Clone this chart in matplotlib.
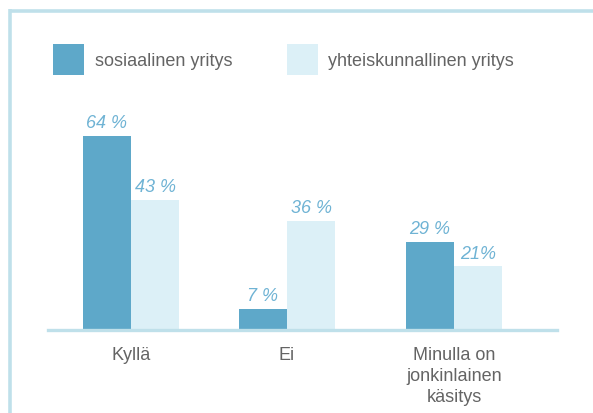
import numpy as np
import matplotlib.pyplot as plt
from matplotlib.patches import Patch
from matplotlib.lines import Line2D

# --- data ---
categories = ["Kyllä", "Ei", "Minulla on\njonkinlainen\nkäsitys"]
sosiaalinen = [64, 7, 29]
yhteiskunnallinen = [43, 36, 21]
labels_sos = ["64 %", "7 %", "29 %"]
labels_yht = ["43 %", "36 %", "21%"]
series_names = ["sosiaalinen yritys", "yhteiskunnallinen yritys"]

# --- style ---
DARK = "#5ea8c9"
LIGHT = "#dcf0f7"
LABEL = "#6fb3d4"
TEXT = "#646464"
FRAME = "#bfe0ea"
plt.rcParams['font.family'] = ['Liberation Sans', 'DejaVu Sans']

W, H = 593, 414
fig = plt.figure(figsize=(W / 100, H / 100), dpi=100)

# axes placed in pixel coords: baseline at y=331, x from 48 to 557
ax = fig.add_axes([48 / W, (H - 331) / H, (557 - 48) / W, (331 - 10) / H])

x = np.array([0, 1, 2.07])
w = 0.308
b1 = ax.bar(x - w / 2, sosiaalinen, w, color=DARK, zorder=2)
b2 = ax.bar(x + w / 2, yhteiskunnallinen, w, color=LIGHT, zorder=2)

for bars, labs in ((b1, labels_sos), (b2, labels_yht)):
    for r, t in zip(bars, labs):
        ax.annotate(t, (r.get_x() + r.get_width() / 2, r.get_height()),
                    xytext=(0, 3.5), textcoords="offset points",
                    ha="center", va="bottom", fontsize=13, style="italic",
                    color=LABEL)

ax.set_xlim(-0.532, 2.731)
ax.set_ylim(0, 321 / 3.03)
ax.set_xticks(x)
ax.set_xticklabels(categories, fontsize=13, color=TEXT, linespacing=1.32)
ax.tick_params(axis="x", length=0, pad=11.5)
ax.set_yticks([])
for s in ("top", "right", "left"):
    ax.spines[s].set_visible(False)
ax.spines["bottom"].set_color(FRAME)
ax.spines["bottom"].set_linewidth(2.4)
ax.patch.set_visible(False)

# legend
handles = [Patch(facecolor=DARK, edgecolor="none"),
           Patch(facecolor=LIGHT, edgecolor="none")]
fig.legend(handles, series_names, loc="upper left",
           bbox_to_anchor=(53 / W, 1 - 45 / H), ncol=2, frameon=False,
           borderpad=0, borderaxespad=0, fontsize=13, labelcolor=TEXT,
           handlelength=1.72, handleheight=2.27, handletextpad=0.6,
           columnspacing=3.0)

# frame (open on right and bottom)
fig.add_artist(Line2D([10 / W, 10 / W], [0, 1 - 10 / H], color=FRAME, lw=2.6,
                      transform=fig.transFigure, solid_capstyle="butt"))
fig.add_artist(Line2D([8.7 / W, 1], [1 - 11.5 / H, 1 - 11.5 / H], color=FRAME,
                      lw=2.6, transform=fig.transFigure, solid_capstyle="butt"))

fig.savefig("out.png", dpi=100)
